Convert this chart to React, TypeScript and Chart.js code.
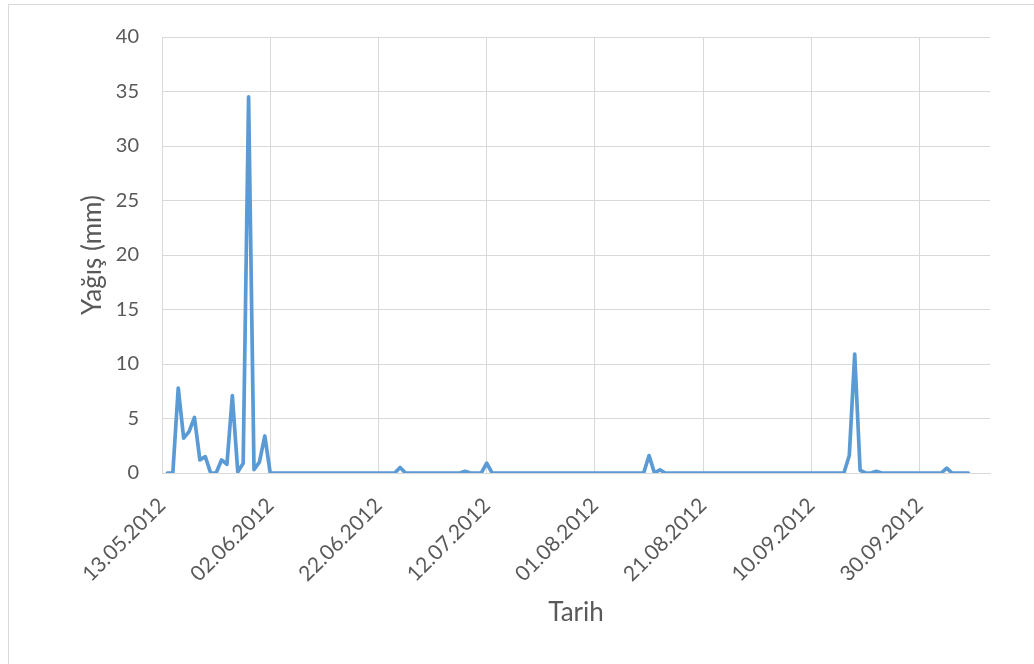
import React, { useEffect, useRef } from "react";
import { Chart, registerables } from "chart.js";

Chart.register(...registerables);

// Axis origin (first labelled date) and first measured day
const axisStart = "2012-05-13";
const firstDataDay = 1; // 14.05.2012, days after axisStart
const tickStepDays = 20;
const axisEndDays = 153;

// Daily rainfall (mm), 14.05.2012 .. 09.10.2012
const rainfall: number[] = [
  0, 0, 7.8, 3.2, 3.8, 5.1, 1.2, 1.5, 0, 0,
  1.2, 0.8, 7.1, 0.1, 0.9, 34.5, 0.3, 1.0, 3.4, 0,
  0, 0, 0, 0, 0, 0, 0, 0, 0, 0,
  0, 0, 0, 0, 0, 0, 0, 0, 0, 0,
  0, 0, 0, 0.5, 0, 0, 0, 0, 0, 0,
  0, 0, 0, 0, 0, 0.15, 0, 0, 0, 0.9,
  0, 0, 0, 0, 0, 0, 0, 0, 0, 0,
  0, 0, 0, 0, 0, 0, 0, 0, 0, 0,
  0, 0, 0, 0, 0, 0, 0, 0, 0, 1.6,
  0, 0.3, 0, 0, 0, 0, 0, 0, 0, 0,
  0, 0, 0, 0, 0, 0, 0, 0, 0, 0,
  0, 0, 0, 0, 0, 0, 0, 0, 0, 0,
  0, 0, 0, 0, 0, 0, 1.6, 10.9, 0.25, 0,
  0, 0.15, 0, 0, 0, 0, 0, 0, 0, 0,
  0, 0, 0, 0, 0.45, 0, 0, 0, 0,
];

const yTicks = [0, 5, 10, 15, 20, 25, 30, 35, 40];
const yTitle = "Yağış (mm)";
const xTitle = "Tarih";

const FONT = "Lato, 'Open Sans', sans-serif";
const TEXT = "#595959";
const GRID = "#d9d9d9";

function formatDay(offset: number): string {
  const base = new Date(axisStart + "T00:00:00Z").getTime();
  const d = new Date(base + Math.round(offset) * 86400000);
  const dd = String(d.getUTCDate()).padStart(2, "0");
  const mm = String(d.getUTCMonth() + 1).padStart(2, "0");
  return `${dd}.${mm}.${d.getUTCFullYear()}`;
}

export default function App() {
  const ref = useRef<HTMLCanvasElement | null>(null);

  useEffect(() => {
    if (!ref.current) return;
    const points = rainfall.map((v, i) => ({ x: firstDataDay + i, y: v }));
    const chart = new Chart(ref.current, {
      type: "line",
      data: {
        datasets: [
          {
            data: points,
            borderColor: "#5b9bd5",
            backgroundColor: "#5b9bd5",
            borderWidth: 3.7,
            pointRadius: 0,
            tension: 0,
            borderJoinStyle: "round",
            borderCapStyle: "round",
          },
        ],
      },
      options: {
        animation: false,
        responsive: false,
        devicePixelRatio: 1,
        layout: { padding: { top: 37, right: 44, left: 0, bottom: 0 } },
        plugins: { legend: { display: false }, tooltip: { enabled: false } },
        scales: {
          x: {
            type: "linear",
            min: 0,
            max: axisEndDays,
            afterFit: (s: any) => {
              s.height = 191;
            },
            grid: { color: GRID, drawTicks: false, lineWidth: 1 },
            border: { color: GRID },
            ticks: {
              stepSize: tickStepDays,
              includeBounds: false,
              autoSkip: false,
              minRotation: 45,
              maxRotation: 45,
              padding: 20,
              color: TEXT,
              font: { family: FONT, size: 21 },
              callback: (v: any) => formatDay(Number(v)),
            },
            title: {
              display: true,
              text: xTitle,
              color: TEXT,
              font: { family: FONT, size: 26 },
              padding: { top: 0, bottom: 36 },
            },
          },
          y: {
            min: yTicks[0],
            max: yTicks[yTicks.length - 1],
            afterFit: (s: any) => {
              s.width = 162;
            },
            afterBuildTicks: (s: any) => {
              s.ticks = yTicks.map((v) => ({ value: v }));
            },
            grid: { color: GRID, drawTicks: false, lineWidth: 1 },
            border: { color: GRID },
            ticks: {
              padding: 23,
              color: TEXT,
              font: { family: FONT, size: 20 },
            },
            title: {
              display: true,
              text: yTitle,
              color: TEXT,
              font: { family: FONT, size: 26 },
              padding: { top: 77, bottom: 0 },
            },
          },
        },
      },
    });
    return () => chart.destroy();
  }, []);

  return (
    <div
      style={{
        position: "fixed",
        left: 0,
        top: 0,
        width: 1034,
        height: 664,
        overflow: "hidden",
        background: "#fff",
      }}
    >
      <div
        style={{
          position: "absolute",
          left: 8,
          top: 4,
          width: 1100,
          height: 720,
          borderTop: "1px solid " + GRID,
          borderLeft: "1px solid " + GRID,
        }}
      />
      <canvas
        ref={ref}
        width={1034}
        height={664}
        style={{ position: "absolute", left: 0, top: 0, width: 1034, height: 664 }}
      />
    </div>
  );
}
